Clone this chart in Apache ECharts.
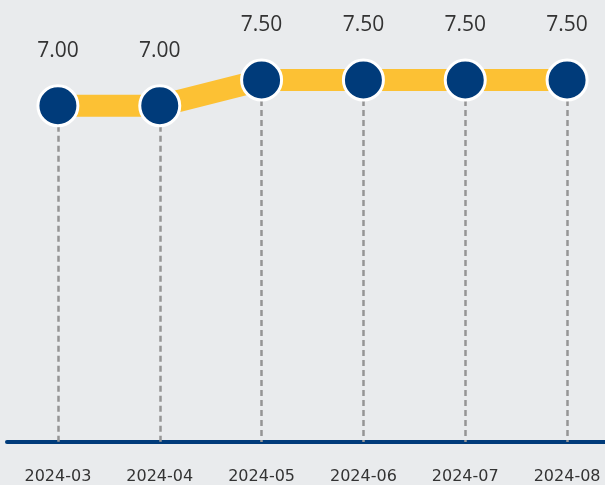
<!DOCTYPE html>
<html><head><meta charset="utf-8">
<script src="https://cdn.jsdelivr.net/npm/echarts@6/dist/echarts.min.js"></script>
<style>html,body{margin:0;padding:0;background:#e9ebed;overflow:hidden;width:605px;height:485px;}#c{width:620px;height:485px;}</style>
</head><body><div id="c"></div>
<script>
const categories = ['2024-03','2024-04','2024-05','2024-06','2024-07','2024-08'];
const rates = [7.00, 7.00, 7.50, 7.50, 7.50, 7.50];
const yMin = 0.48;
const yMax = 7.5;

const chart = echarts.init(document.getElementById('c'));
const dropLines = rates.map((v, i) => [{coord: [i, v]}, {coord: [i, yMin]}]);
chart.setOption({
  backgroundColor: '#e9ebed',
  animation: false,
  grid: {left: 7, width: 611, top: 80, bottom: 40},
  xAxis: {
    type: 'category', data: categories, boundaryGap: true,
    axisLine: {show: true, lineStyle: {color: '#003b7a', width: 4}},
    axisTick: {show: false},
    axisLabel: {color: '#333', fontSize: 16, margin: 27, fontFamily: 'DejaVu Sans', interval: 0}
  },
  yAxis: {
    type: 'value', min: yMin, max: yMax, show: false,
    splitLine: {show: false}
  },
  series: [{
    type: 'line', data: rates, z: 3,
    lineStyle: {color: '#fcc134', width: 22},
    symbol: 'circle', symbolSize: 40,
    itemStyle: {color: '#003b7a', borderColor: '#ffffff', borderWidth: 3},
    label: {show: true, position: 'top', distance: 23, color: '#333', fontSize: 21,
      fontFamily: 'Open Sans', formatter: p => p.value.toFixed(2)},
    markLine: {
      silent: true, symbol: 'none', z: 1,
      lineStyle: {color: '#959595', type: [6, 4], width: 2.5},
      label: {show: false},
      data: dropLines
    }
  }]
});
</script></body></html>
